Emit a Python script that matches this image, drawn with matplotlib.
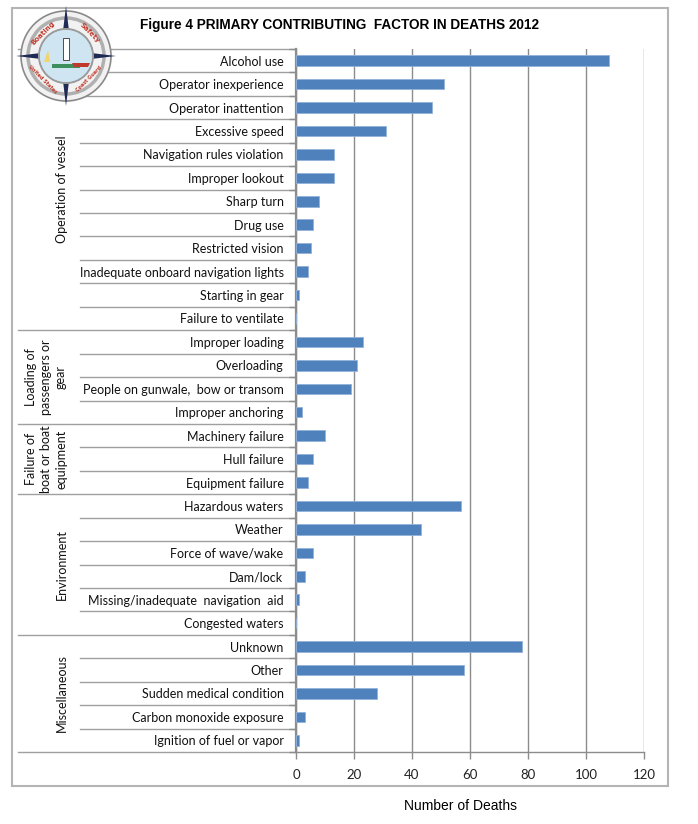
import numpy as np
import matplotlib.pyplot as plt
import matplotlib.patches as mpatches
from matplotlib.transforms import blended_transform_factory

# --- Data ---
factors = [
    "Alcohol use", "Operator inexperience", "Operator inattention", "Excessive speed",
    "Navigation rules violation", "Improper lookout", "Sharp turn", "Drug use",
    "Restricted vision", "Inadequate onboard navigation lights", "Starting in gear",
    "Failure to ventilate",
    "Improper loading", "Overloading", "People on gunwale,  bow or transom",
    "Improper anchoring",
    "Machinery failure", "Hull failure", "Equipment failure",
    "Hazardous waters", "Weather", "Force of wave/wake", "Dam/lock",
    "Missing/inadequate  navigation  aid", "Congested waters",
    "Unknown", "Other", "Sudden medical condition", "Carbon monoxide exposure",
    "Ignition of fuel or vapor",
]
deaths = [108, 51, 47, 31, 13, 13, 8, 6, 5, 4, 1, 0,
          23, 21, 19, 2,
          10, 6, 4,
          57, 43, 6, 3, 1, 0,
          78, 58, 28, 3, 1]
groups = ["Operation of vessel", "Loading of\npassengers or\ngear",
          "Failure of\nboat or boat\nequipment", "Environment", "Miscellaneous"]
group_sizes = [12, 4, 3, 6, 5]
group_x = [62, 46, 46, 62, 62]
xticks = [0, 20, 40, 60, 80, 100, 120]

W, H = 698, 824
BAR = "#4F81BD"
GRID = "#8C8C8C"
LINE = "#A0A0A0"
FONT = ["Lato", "DejaVu Sans"]

fig = plt.figure(figsize=(W / 100, H / 100), dpi=100, facecolor="white")

# main bar axes, placed in pixel coordinates
x0, x1, y0, y1 = 296, 644, 49, 752
ax = fig.add_axes([x0 / W, 1 - y1 / H, (x1 - x0) / W, (y1 - y0) / H])
rows = np.arange(len(factors))
ax.barh(rows, deaths, height=0.45, color=BAR, edgecolor="#93B3DA", linewidth=0.6, zorder=3)
ax.set_xlim(0, 120)
ax.set_ylim(len(factors) - 0.5, -0.5)
ax.set_xticks(xticks)
ax.set_xticklabels([str(t) for t in xticks], family=FONT, fontsize=9.5, color="#222222")
ax.set_yticks(rows)
ax.set_yticklabels(factors, family=FONT, fontsize=9, color="#111111")
ax.set_yticks(np.arange(-0.5, len(factors), 1), minor=True)
ax.tick_params(axis="y", which="major", length=0, pad=9)
ax.tick_params(axis="y", which="minor", length=5, color=GRID, width=1)
ax.tick_params(axis="x", length=5, color=GRID, width=1, pad=7)
ax.grid(axis="x", color=GRID, linewidth=1, zorder=0)
for s in ["top", "right"]:
    ax.spines[s].set_visible(False)
ax.spines["left"].set_color(GRID)
ax.spines["left"].set_linewidth(1.6)
ax.spines["bottom"].set_color(GRID)
ax.spines["bottom"].set_linewidth(1)

# overlay in pixel coordinates for the label table, border, title, logo
ov = fig.add_axes([0, 0, 1, 1], zorder=-1)
ov.set_xlim(0, W)
ov.set_ylim(H, 0)
ov.axis("off")
tr = blended_transform_factory(ov.transData, ax.transData)

# row separators
bounds = np.cumsum([0] + group_sizes) - 0.5
for b in np.arange(-0.5, len(factors), 1):
    left = 18 if np.any(np.isclose(b, bounds)) else 80
    ov.plot([left, x0], [b, b], color=LINE, linewidth=1, transform=tr, zorder=1)

# group labels
for name, start, n, gx in zip(groups, bounds[:-1], group_sizes, group_x):
    ov.text(gx, start + n / 2, name, rotation=90, ha="center", va="center",
            family=FONT, fontsize=9, color="#111111", linespacing=1.3, transform=tr)

# outer border
ov.add_patch(mpatches.Rectangle((12, 8), 656, 778, fill=False, edgecolor="#B4B4B4", linewidth=1.5))

ov.text(340, 25, "Figure 4 PRIMARY CONTRIBUTING  FACTOR IN DEATHS 2012",
        ha="center", va="center", fontsize=9.8, fontweight="bold",
        family=["Liberation Sans Narrow", "Liberation Sans"])
ov.text(460, 806, "Number of Deaths", ha="center", va="center", fontsize=10,
        family=["Liberation Sans", "DejaVu Sans"])

# simple boating safety logo
cx, cy = 66, 56
ov.add_patch(mpatches.Circle((cx, cy), 45, facecolor="#F2F2F2", edgecolor="#8A8A8A", linewidth=1.2, zorder=2))
ov.add_patch(mpatches.Circle((cx, cy), 38, facecolor="none", edgecolor="#B0B0B0", linewidth=2.5, zorder=2))
ov.add_patch(mpatches.Circle((cx, cy), 27, facecolor="#CFE6F2", edgecolor="#9A9A9A", linewidth=1.5, zorder=3))
for ang in [0, 90, 180, 270]:
    a = np.deg2rad(ang)
    p = np.deg2rad(ang + 90)
    tip = (cx + 50 * np.cos(a), cy + 50 * np.sin(a))
    b1 = (cx + 6 * np.cos(p), cy + 6 * np.sin(p))
    b2 = (cx - 6 * np.cos(p), cy - 6 * np.sin(p))
    ov.add_patch(mpatches.Polygon([tip, b1, b2], closed=True, facecolor="#1F2A55", edgecolor="none", zorder=2))
ov.add_patch(mpatches.Circle((cx, cy), 26, facecolor="#CFE6F2", edgecolor="none", zorder=3))
ov.add_patch(mpatches.Rectangle((cx - 3, cy - 18), 6, 22, facecolor="white", edgecolor="#333333", linewidth=0.6, zorder=4))
ov.add_patch(mpatches.Rectangle((cx - 14, cy + 8), 28, 4, facecolor="#3E8E5E", edgecolor="none", zorder=4))
ov.add_patch(mpatches.Polygon([(cx + 6, cy + 7), (cx + 24, cy + 7), (cx + 22, cy + 11), (cx + 8, cy + 11)],
                              facecolor="#C0392B", edgecolor="none", zorder=5))
ov.add_patch(mpatches.Polygon([(cx - 22, cy + 6), (cx - 16, cy + 6), (cx - 18, cy - 6)],
                              facecolor="#F3D36B", edgecolor="none", zorder=5))
for txt, ang, rot in [("Boating", 135, 45), ("Safety", 45, -45),
                      ("United States", 225, -45), ("Coast Guard", 315, 45)]:
    a = np.deg2rad(ang)
    ov.text(cx + 33 * np.cos(a), cy - 33 * np.sin(a), txt, rotation=rot, ha="center", va="center",
            fontsize=5 if len(txt) < 8 else 3.5, fontweight="bold", color="#C0392B", zorder=6)

fig.savefig("out.png", dpi=100, facecolor="white")
